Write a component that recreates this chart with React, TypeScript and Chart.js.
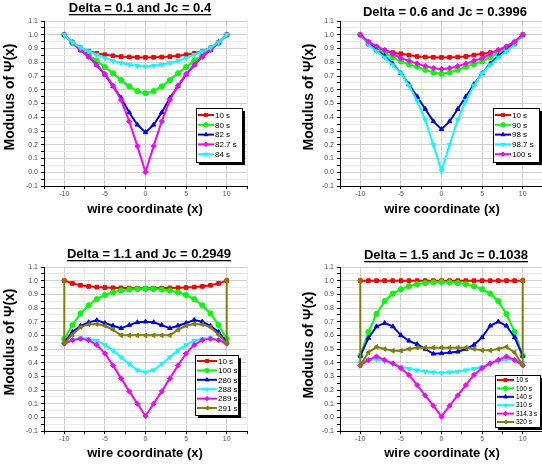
import React, { useEffect, useRef } from "react";
import { Chart, registerables } from "chart.js";
import { drawPoint } from "chart.js/helpers";
Chart.register(...registerables);

const FONT = '"Liberation Sans", Arial, sans-serif';

// wire coordinate sample points
const X = [-10, -9, -8, -7, -6, -5, -4, -3, -2, -1, 0, 1, 2, 3, 4, 5, 6, 7, 8, 9, 10];
const EDGE = 1.0; // boundary value drawn at both ends of the last series in panels 3 and 4
const X_EDGE = [-10, ...X, 10];

// Panel 1: Delta = 0.1, Jc = 0.4
const P1_LABELS = ["10 s", "80 s", "82 s", "82.7 s", "84 s"];
const P1_10 = [1.0, 0.945, 0.905, 0.88, 0.865, 0.855, 0.847, 0.841, 0.838, 0.836, 0.835, 0.836, 0.838, 0.841, 0.847, 0.855, 0.865, 0.88, 0.905, 0.945, 1.0];
const P1_80 = [1.0, 0.94, 0.89, 0.85, 0.81, 0.765, 0.72, 0.67, 0.625, 0.59, 0.575, 0.59, 0.625, 0.67, 0.72, 0.765, 0.81, 0.85, 0.89, 0.94, 1.0];
const P1_82 = [1.0, 0.945, 0.89, 0.84, 0.78, 0.71, 0.625, 0.54, 0.435, 0.345, 0.29, 0.345, 0.435, 0.54, 0.625, 0.71, 0.78, 0.84, 0.89, 0.945, 1.0];
const P1_827 = [1.0, 0.945, 0.89, 0.84, 0.78, 0.715, 0.63, 0.525, 0.37, 0.19, 0.0, 0.19, 0.37, 0.525, 0.63, 0.715, 0.78, 0.84, 0.89, 0.945, 1.0];
const P1_84 = [1.0, 0.945, 0.905, 0.88, 0.855, 0.83, 0.81, 0.795, 0.782, 0.774, 0.77, 0.774, 0.782, 0.795, 0.81, 0.83, 0.855, 0.88, 0.905, 0.945, 1.0];

// Panel 2: Delta = 0.6, Jc = 0.3996
const P2_LABELS = ["10 s", "90 s", "98 s", "98.7 s", "100 s"];
const P2_10 = [1.0, 0.945, 0.91, 0.885, 0.87, 0.862, 0.852, 0.842, 0.838, 0.836, 0.835, 0.836, 0.838, 0.842, 0.852, 0.862, 0.87, 0.885, 0.91, 0.945, 1.0];
const P2_90 = [1.0, 0.935, 0.895, 0.866, 0.835, 0.806, 0.785, 0.768, 0.745, 0.725, 0.716, 0.725, 0.745, 0.768, 0.785, 0.806, 0.835, 0.866, 0.895, 0.935, 1.0];
const P2_98 = [1.0, 0.94, 0.89, 0.845, 0.79, 0.72, 0.64, 0.55, 0.46, 0.37, 0.313, 0.37, 0.46, 0.55, 0.64, 0.72, 0.79, 0.845, 0.89, 0.94, 1.0];
const P2_987 = [1.0, 0.93, 0.88, 0.835, 0.78, 0.72, 0.63, 0.52, 0.38, 0.2, 0.01, 0.2, 0.38, 0.52, 0.63, 0.72, 0.78, 0.835, 0.88, 0.93, 1.0];
const P2_100 = [1.0, 0.95, 0.915, 0.89, 0.86, 0.83, 0.81, 0.79, 0.772, 0.757, 0.75, 0.757, 0.772, 0.79, 0.81, 0.83, 0.86, 0.89, 0.915, 0.95, 1.0];

// Panel 3: Delta = 1.1, Jc = 0.2949
const P3_LABELS = ["10 s", "100 s", "280 s", "288 s", "289 s", "291 s"];
const P3_10 = [1.0, 0.98, 0.966, 0.958, 0.953, 0.95, 0.948, 0.947, 0.946, 0.945, 0.945, 0.945, 0.946, 0.947, 0.948, 0.95, 0.953, 0.958, 0.966, 0.98, 1.0];
const P3_100 = [0.575, 0.675, 0.76, 0.82, 0.865, 0.895, 0.915, 0.928, 0.935, 0.938, 0.94, 0.938, 0.935, 0.928, 0.915, 0.895, 0.865, 0.82, 0.76, 0.675, 0.575];
const P3_280 = [0.55, 0.625, 0.67, 0.695, 0.71, 0.69, 0.67, 0.652, 0.675, 0.695, 0.7, 0.695, 0.675, 0.652, 0.67, 0.69, 0.712, 0.7, 0.67, 0.625, 0.55];
const P3_288 = [0.54, 0.565, 0.58, 0.575, 0.56, 0.53, 0.49, 0.44, 0.39, 0.345, 0.33, 0.345, 0.39, 0.44, 0.49, 0.53, 0.56, 0.575, 0.58, 0.565, 0.54];
const P3_289 = [0.54, 0.565, 0.575, 0.565, 0.53, 0.467, 0.38, 0.285, 0.19, 0.1, 0.01, 0.1, 0.19, 0.285, 0.38, 0.467, 0.53, 0.565, 0.575, 0.565, 0.54];
const P3_291 = [0.54, 0.605, 0.66, 0.68, 0.683, 0.67, 0.64, 0.6, 0.6, 0.6, 0.6, 0.6, 0.6, 0.6, 0.64, 0.67, 0.683, 0.68, 0.66, 0.605, 0.54];

// Panel 4: Delta = 1.5, Jc = 0.1038
const P4_LABELS = ["10 s", "100 s", "140 s", "310 s", "314.3 s", "320 s"];
const P4_10 = [1.0, 1.0, 1.0, 1.0, 1.0, 1.0, 1.0, 1.0, 1.0, 1.0, 1.0, 1.0, 1.0, 1.0, 1.0, 1.0, 1.0, 1.0, 1.0, 1.0, 1.0];
const P4_100 = [0.45, 0.625, 0.757, 0.85, 0.905, 0.937, 0.96, 0.975, 0.983, 0.988, 0.99, 0.988, 0.983, 0.975, 0.96, 0.937, 0.905, 0.85, 0.757, 0.625, 0.45];
const P4_140 = [0.45, 0.58, 0.665, 0.69, 0.665, 0.6, 0.56, 0.535, 0.5, 0.465, 0.468, 0.475, 0.48, 0.5, 0.53, 0.585, 0.67, 0.7, 0.67, 0.585, 0.45];
const P4_310 = [0.4, 0.42, 0.425, 0.41, 0.39, 0.37, 0.355, 0.345, 0.335, 0.33, 0.325, 0.33, 0.335, 0.345, 0.355, 0.37, 0.39, 0.41, 0.425, 0.42, 0.4];
const P4_3143 = [0.38, 0.42, 0.445, 0.42, 0.395, 0.36, 0.31, 0.236, 0.16, 0.085, 0.005, 0.085, 0.16, 0.236, 0.31, 0.36, 0.395, 0.42, 0.445, 0.42, 0.38];
const P4_320 = [0.38, 0.475, 0.516, 0.5, 0.487, 0.487, 0.5, 0.51, 0.51, 0.51, 0.51, 0.51, 0.51, 0.51, 0.5, 0.49, 0.49, 0.5, 0.516, 0.475, 0.38];

const X_TICKS = [-12.5, -10, -7.5, -5, -2.5, 0, 2.5, 5, 7.5, 10, 12.5];
const Y_TICKS: number[] = [];
for (let i = 0; i <= 24; i++) Y_TICKS.push(Math.round((-0.1 + i * 0.05) * 100) / 100);

const RED = "#ff0000", GREEN = "#00ff00", BLUE = "#0000ff", CYAN = "#00ffff", MAGENTA = "#ff00ff", OLIVE = "#808000";
const MK: Record<string, [string, number]> = {
  [RED]: ["rect", 0], [GREEN]: ["circle", 0], [BLUE]: ["triangle", 0],
  [CYAN]: ["triangle", 180], [MAGENTA]: ["rectRot", 0], [OLIVE]: ["triangle", -90],
};

type Series = { label: string; color: string; xs: number[]; ys: number[] };
const mk = (label: string, color: string, ys: number[], edge = false): Series =>
  edge ? { label, color, xs: X_EDGE, ys: [EDGE, ...ys, EDGE] } : { label, color, xs: X, ys };

type Panel = {
  left: number; top: number; w: number; h: number;
  area: { l: number; t: number; r: number; b: number };
  title: string; underline: boolean; tx: number; ty: number;
  xtx: number; xty: number; ytx: number; yty: number;
  legend: { x: number; y: number; w: number; h: number; first: number; row: number; line: number; text: number; font: number };
  series: Series[];
};

const PANELS: Panel[] = [
  {
    left: 0, top: 0, w: 271, h: 232, area: { l: 44, t: 21, r: 247, b: 186 },
    title: "Delta = 0.1 and Jc = 0.4", underline: true, tx: 140, ty: 8,
    xtx: 145, xty: 209, ytx: 10, yty: 97,
    legend: { x: 196, y: 108, w: 46, h: 54, first: 7, row: 9.8, line: 16, text: 19, font: 8 },
    series: [mk(P1_LABELS[0], RED, P1_10), mk(P1_LABELS[1], GREEN, P1_80), mk(P1_LABELS[2], BLUE, P1_82), mk(P1_LABELS[3], MAGENTA, P1_827), mk(P1_LABELS[4], CYAN, P1_84)],
  },
  {
    left: 271, top: 0, w: 290, h: 232, area: { l: 69, t: 21, r: 272, b: 186 },
    title: "Delta = 0.6 and Jc = 0.3996", underline: false, tx: 174, ty: 12,
    xtx: 171, xty: 209, ytx: 38, yty: 97,
    legend: { x: 222, y: 108, w: 46, h: 54, first: 7, row: 9.8, line: 16, text: 19, font: 8 },
    series: [mk(P2_LABELS[0], RED, P2_10), mk(P2_LABELS[1], GREEN, P2_90), mk(P2_LABELS[2], BLUE, P2_98), mk(P2_LABELS[3], CYAN, P2_987), mk(P2_LABELS[4], MAGENTA, P2_100)],
  },
  {
    left: 0, top: 232, w: 271, h: 233, area: { l: 44, t: 35, r: 247, b: 199 },
    title: "Delta = 1.1 and Jc = 0.2949", underline: true, tx: 149, ty: 22,
    xtx: 145, xty: 221, ytx: 10, yty: 110,
    legend: { x: 195, y: 123, w: 43, h: 60, first: 6, row: 9.4, line: 20, text: 23, font: 8 },
    series: [mk(P3_LABELS[0], RED, P3_10), mk(P3_LABELS[1], GREEN, P3_100), mk(P3_LABELS[2], BLUE, P3_280), mk(P3_LABELS[3], CYAN, P3_288), mk(P3_LABELS[4], MAGENTA, P3_289), mk(P3_LABELS[5], OLIVE, P3_291, true)],
  },
  {
    left: 271, top: 232, w: 290, h: 233, area: { l: 69, t: 35, r: 272, b: 199 },
    title: "Delta = 1.5 and Jc = 0.1038", underline: true, tx: 175, ty: 23,
    xtx: 171, xty: 221, ytx: 38, yty: 113,
    legend: { x: 224, y: 143, w: 45, h: 52, first: 5, row: 8.4, line: 17, text: 21, font: 6.5 },
    series: [mk(P4_LABELS[0], RED, P4_10), mk(P4_LABELS[1], GREEN, P4_100), mk(P4_LABELS[2], BLUE, P4_140), mk(P4_LABELS[3], CYAN, P4_310), mk(P4_LABELS[4], MAGENTA, P4_3143), mk(P4_LABELS[5], OLIVE, P4_320, true)],
  },
];

const isMajorY = (v: number) => Math.abs(Math.round(v * 10) - v * 10) < 1e-6;
const isMajorX = (v: number) => Math.abs(v % 5) < 1e-6;

function decor(p: Panel) {
  return {
    id: "decor",
    afterDraw(chart: any) {
      const ctx: CanvasRenderingContext2D = chart.ctx;
      ctx.save();
      ctx.fillStyle = "#000";
      ctx.font = `bold 13px ${FONT}`;
      ctx.textAlign = "center";
      ctx.textBaseline = "middle";
      ctx.fillText(p.title, p.tx, p.ty);
      if (p.underline) {
        const tw = ctx.measureText(p.title).width;
        ctx.fillRect(p.tx - tw / 2, p.ty + 6, tw, 1.3);
      }
      ctx.font = `bold 13px ${FONT}`;
      ctx.fillText("wire coordinate (x)", p.xtx, p.xty);
      ctx.save();
      ctx.translate(p.ytx, p.yty);
      ctx.rotate(-Math.PI / 2);
      ctx.font = `bold 14px ${FONT}`;
      ctx.fillText("Modulus of \u03A8(x)", 0, 0);
      ctx.restore();

      const L = p.legend;
      ctx.fillStyle = "#000";
      ctx.fillRect(L.x + 3, L.y + 3, L.w, L.h);
      ctx.fillStyle = "#fff";
      ctx.fillRect(L.x, L.y, L.w, L.h);
      ctx.strokeStyle = "#000";
      ctx.lineWidth = 1;
      ctx.strokeRect(L.x + 0.5, L.y + 0.5, L.w, L.h);
      p.series.forEach((s, i) => {
        const cy = L.y + L.first + i * L.row;
        const x0 = L.x + 2, x1 = x0 + L.line;
        ctx.strokeStyle = s.color;
        ctx.lineWidth = 2;
        ctx.beginPath();
        ctx.moveTo(x0, cy);
        ctx.lineTo(x1, cy);
        ctx.stroke();
        ctx.fillStyle = s.color;
        ctx.lineWidth = 1;
        const [ps, rot] = MK[s.color];
        drawPoint(ctx, { pointStyle: ps as any, rotation: rot, radius: 2.2, borderWidth: 1 } as any, (x0 + x1) / 2, cy);
        ctx.fillStyle = "#000";
        ctx.font = `${L.font}px ${FONT}`;
        ctx.textAlign = "left";
        ctx.textBaseline = "middle";
        ctx.fillText(s.label, L.x + L.text, cy + 0.5);
      });
      ctx.restore();
    },
  };
}

function PanelChart({ p }: { p: Panel }) {
  const ref = useRef<HTMLCanvasElement>(null);
  useEffect(() => {
    if (!ref.current) return;
    const n = p.series.length;
    const gridColor = (major: (v: number) => boolean) => (c: any) =>
      c.tick && major(c.tick.value) ? "#cfcfcf" : "#ebebeb";
    const chart = new Chart(ref.current, {
      type: "line",
      data: {
        datasets: p.series.map((s, i) => {
          const [ps, rot] = MK[s.color];
          return {
            label: s.label,
            data: s.xs.map((x, j) => ({ x, y: s.ys[j] })),
            borderColor: s.color,
            backgroundColor: s.color,
            pointBackgroundColor: s.color,
            pointBorderColor: s.color,
            pointStyle: ps as any,
            pointRotation: rot,
            pointRadius: 2.6,
            pointBorderWidth: 1,
            borderWidth: 2,
            tension: 0,
            order: n - i,
          };
        }),
      },
      options: {
        animation: false,
        responsive: false,
        devicePixelRatio: 1,
        events: [],
        layout: {
          padding: {
            left: p.area.l - 30,
            top: p.area.t,
            right: p.w - p.area.r,
            bottom: p.h - p.area.b - 20,
          },
        },
        plugins: { legend: { display: false }, title: { display: false }, tooltip: { enabled: false } },
        scales: {
          x: {
            type: "linear",
            min: -12.5,
            max: 12.5,
            afterBuildTicks: (s: any) => { s.ticks = X_TICKS.map((v) => ({ value: v })); },
            afterFit: (s: any) => { s.height = 20; },
            ticks: {
              autoSkip: false,
              maxRotation: 0,
              padding: 1,
              color: "#555",
              font: { family: FONT, size: 7 },
              callback: (v: any) => (isMajorX(Number(v)) ? String(v) : ""),
            },
            grid: { color: gridColor(isMajorX), tickColor: "#000", tickLength: 3, lineWidth: 1 },
            border: { display: true, color: "#000", width: 1 },
          },
          y: {
            type: "linear",
            min: -0.1,
            max: 1.1,
            afterBuildTicks: (s: any) => { s.ticks = Y_TICKS.map((v) => ({ value: v })); },
            afterFit: (s: any) => { s.width = 30; },
            ticks: {
              autoSkip: false,
              padding: 3,
              color: "#555",
              font: { family: FONT, size: 7 },
              callback: (v: any) => (isMajorY(Number(v)) ? Number(v).toFixed(1) : ""),
            },
            grid: { color: gridColor(isMajorY), tickColor: "#000", tickLength: 3, lineWidth: 1 },
            border: { display: true, color: "#000", width: 1 },
          },
        },
      } as any,
      plugins: [decor(p)],
    });
    return () => chart.destroy();
  }, [p]);
  return (
    <canvas
      ref={ref}
      width={p.w}
      height={p.h}
      style={{ position: "absolute", left: p.left, top: p.top, width: p.w, height: p.h }}
    />
  );
}

export default function App() {
  return (
    <div style={{ position: "absolute", left: 0, top: 0, width: 542, height: 465, overflow: "hidden", background: "#fff" }}>
      {PANELS.map((p, i) => (
        <PanelChart key={i} p={p} />
      ))}
    </div>
  );
}
